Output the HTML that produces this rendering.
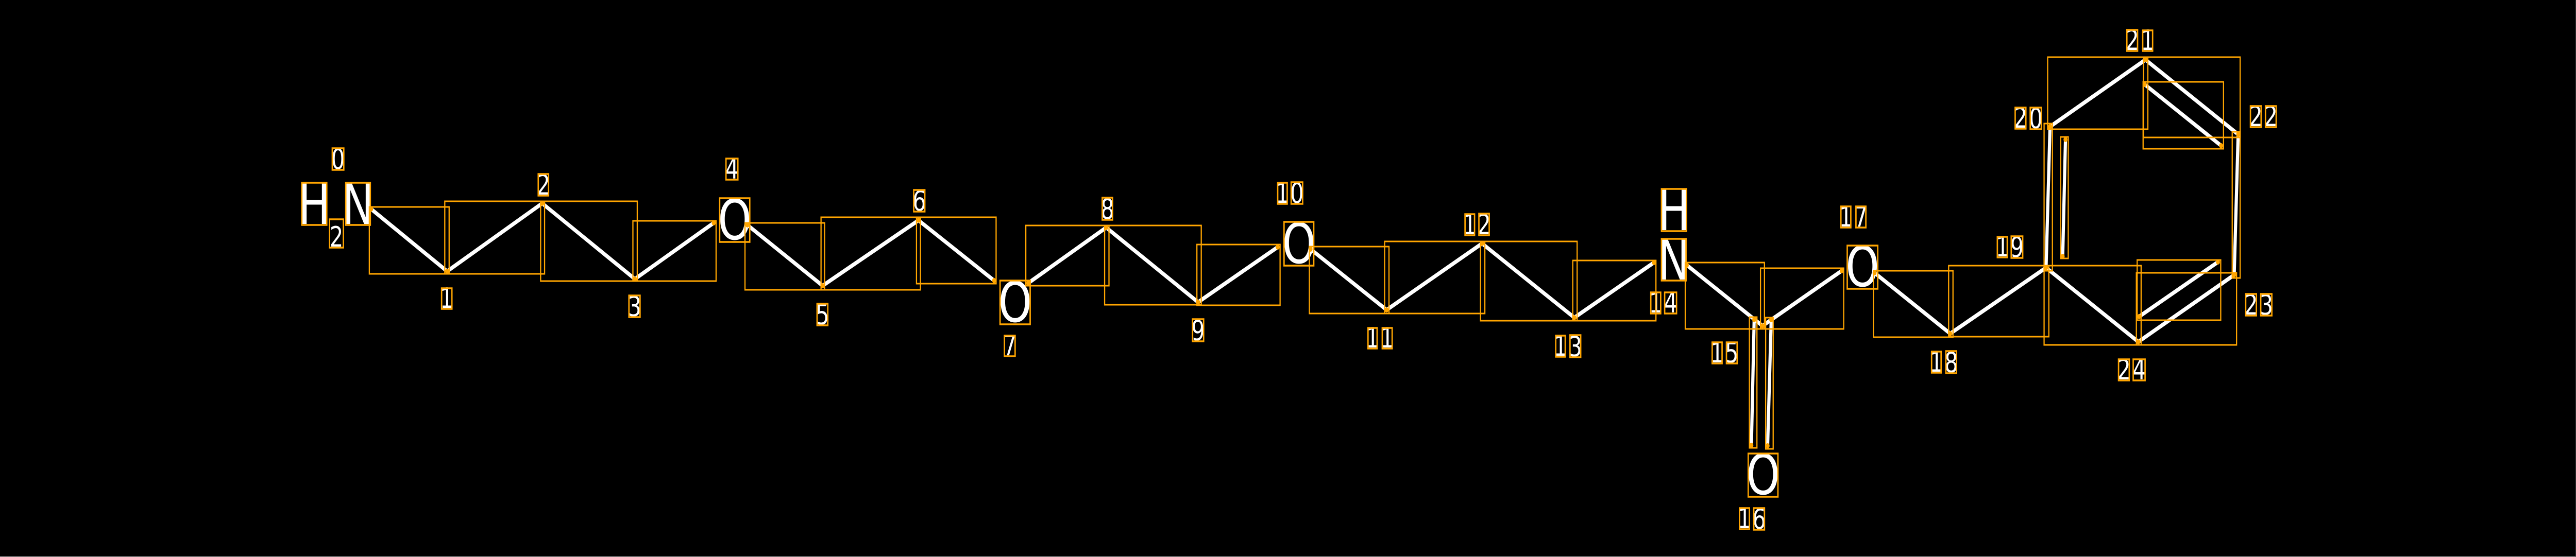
<!DOCTYPE html>
<html><head><meta charset="utf-8"><style>
html,body{margin:0;padding:0;background:#000;width:100%;height:100%;overflow:hidden}
svg{display:block;width:100vw;height:100vh;position:fixed;left:0;top:0}
.b{stroke:#fff;stroke-width:8;fill:none}
.r{stroke:#ffa500;stroke-width:3;fill:none}
.g{stroke:#ffa500;stroke-width:3.5;fill:none}
text{fill:#fff;font-family:"DejaVu Sans","Liberation Sans",sans-serif;text-anchor:middle}
.L{font-size:108px}.s{font-size:54px}
circle{fill:#ffa500}
</style></head><body>
<svg viewBox="0 0 6504 1082" preserveAspectRatio="none" xmlns="http://www.w3.org/2000/svg">
<rect width="6504" height="1082" fill="#000"/>
<rect x="0" y="1081" width="6504" height="1" fill="#c4c4c4"/>
<rect x="6503" y="0" width="1" height="1082" fill="#555"/>

<g class="b">
<path d="M937 406L1129 527L1369 395L1603 542L1802 433"/>
<path d="M1887 437L2077 555L2319 428L2510 545"/>
<path d="M2596 550L2793 442L3025 587L3226 480"/>
<path d="M3309 484L3501 602L3742 473L3975 617L4176 510"/>
<path d="M4259 515L4450 633L4650 526"/>
<path d="M4429 621L4422 865"/><path d="M4472 621L4463 866"/>
<path d="M4733 530L4924 648L5166 520L5399 664L5641 534L5651 261L5417 116L5176 246L5166 520"/>
<path d="M5208 498L5215 271"/>
<path d="M5415 164L5608 283"/>
<path d="M5600 509L5401 615"/>
</g>

<text class="L" x="793.500" y="435">H</text>
<text class="L" x="904" y="435">N</text>
<text class="L" x="1855" y="465">O</text>
<text class="L" x="2563" y="625">O</text>
<text class="L" x="3279.500" y="511">O</text>
<text class="L" x="4226.500" y="447">H</text>
<text class="L" x="4226" y="543">N</text>
<text class="L" x="4451.500" y="960">O</text>
<text class="L" x="4702.500" y="556">O</text>

<text class="s" x="849.500" y="479">2</text>
<text class="s" x="853.500" y="328">0</text>
<text class="s" x="1128" y="598">1</text>
<text class="s" x="1372" y="378">2</text>
<text class="s" x="1602" y="614">3</text>
<text class="s" x="1848" y="347">4</text>
<text class="s" x="2076.500" y="630">5</text>
<text class="s" x="2321" y="409">6</text>
<text class="s" x="2549.500" y="690">7</text>
<text class="s" x="2796" y="425">8</text>
<text class="s" x="3025" y="661">9</text>
<text class="s" x="3238" y="394">1</text><text class="s" x="3274.500" y="394">0</text>
<text class="s" x="3465.500" y="675">1</text><text class="s" x="3502.500" y="675">1</text>
<text class="s" x="3711" y="455">1</text><text class="s" x="3747" y="455">2</text>
<text class="s" x="3940" y="691">1</text><text class="s" x="3977.500" y="692">3</text>
<text class="s" x="4180.500" y="607">1</text><text class="s" x="4218" y="607">4</text>
<text class="s" x="4335.500" y="704">1</text><text class="s" x="4372.500" y="704">5</text>
<text class="s" x="4404.500" y="1026">1</text><text class="s" x="4441.500" y="1027">6</text>
<text class="s" x="4660.500" y="440">1</text><text class="s" x="4698.500" y="440">7</text>
<text class="s" x="4889" y="722">1</text><text class="s" x="4926.500" y="723">8</text>
<text class="s" x="5056" y="498">1</text><text class="s" x="5092.500" y="499">9</text>
<text class="s" x="5101.500" y="248">2</text><text class="s" x="5140" y="249">0</text>
<text class="s" x="5383.500" y="97">2</text><text class="s" x="5422.500" y="97">1</text>
<text class="s" x="5695.500" y="245">2</text><text class="s" x="5733.500" y="245">2</text>
<text class="s" x="5683.500" y="611">2</text><text class="s" x="5722" y="611">3</text>
<text class="s" x="5362.500" y="737">2</text><text class="s" x="5401" y="737">4</text>

<g class="g">
<rect x="762" y="355" width="63" height="82"/><rect x="873" y="355" width="62" height="82"/>
<rect x="832" y="426" width="35" height="55"/><rect x="839" y="288" width="29" height="42"/>
<rect x="1817" y="385" width="76" height="85"/><rect x="2525" y="545" width="76" height="85"/>
<rect x="3242" y="431" width="75" height="85"/><rect x="4195" y="367" width="63" height="82"/>
<rect x="4195" y="464" width="62" height="81"/><rect x="4414" y="881" width="75" height="84"/>
<rect x="4664" y="477" width="77" height="84"/>
<rect x="1115" y="560" width="26" height="40"/><rect x="1359" y="338" width="26" height="42"/>
<rect x="1588" y="574" width="28" height="42"/><rect x="1833" y="308" width="30" height="41"/>
<rect x="2063" y="590" width="27" height="42"/><rect x="2307" y="369" width="28" height="42"/>
<rect x="2536" y="652" width="27" height="40"/><rect x="2783" y="384" width="26" height="43"/>
<rect x="3011" y="620" width="28" height="43"/>
<rect x="3226" y="355" width="24" height="41"/><rect x="3260" y="354" width="29" height="42"/>
<rect x="3454" y="637" width="23" height="40"/><rect x="3490" y="637" width="25" height="40"/>
<rect x="3699" y="416" width="24" height="41"/><rect x="3734" y="415" width="26" height="42"/>
<rect x="3928" y="652" width="24" height="41"/><rect x="3964" y="651" width="27" height="43"/>
<rect x="4168" y="568" width="25" height="41"/><rect x="4203" y="568" width="30" height="41"/>
<rect x="4323" y="665" width="25" height="41"/><rect x="4359" y="665" width="27" height="41"/>
<rect x="4392" y="987" width="25" height="41"/><rect x="4428" y="987" width="27" height="42"/>
<rect x="4648" y="401" width="25" height="41"/><rect x="4686" y="401" width="25" height="41"/>
<rect x="4877" y="683" width="24" height="41"/><rect x="4913" y="682" width="27" height="43"/>
<rect x="5043" y="460" width="25" height="40"/><rect x="5078" y="459" width="29" height="42"/>
<rect x="5088" y="209" width="27" height="41"/><rect x="5126" y="209" width="28" height="42"/>
<rect x="5370" y="58" width="27" height="41"/><rect x="5410" y="59" width="25" height="40"/>
<rect x="5682" y="206" width="27" height="41"/><rect x="5720" y="206" width="27" height="41"/>
<rect x="5670" y="571" width="27" height="42"/><rect x="5708" y="571" width="28" height="42"/>
<rect x="5349" y="698" width="27" height="41"/><rect x="5386" y="698" width="30" height="41"/>
</g>

<g class="r">
<rect x="932.500" y="402" width="201.500" height="130"/>
<rect x="1123" y="391" width="252" height="141"/>
<rect x="1365" y="391" width="244" height="155"/>
<rect x="1598" y="429" width="210" height="117"/>
<rect x="1881" y="433" width="201" height="130"/>
<rect x="2073" y="422" width="251" height="141"/>
<rect x="2314" y="422" width="201" height="129"/>
<rect x="2590" y="438" width="210" height="117"/>
<rect x="2789" y="438" width="244" height="154"/>
<rect x="3022" y="475" width="210" height="118"/>
<rect x="3306" y="479" width="201" height="130"/>
<rect x="3496" y="469" width="253" height="140"/>
<rect x="3738" y="469" width="244" height="154"/>
<rect x="3971" y="506" width="210" height="117"/>
<rect x="4255" y="510" width="200" height="129"/>
<rect x="4445" y="521" width="210" height="118"/>
<rect x="4417" y="616" width="19" height="254"/>
<rect x="4458" y="617" width="19" height="255"/>
<rect x="4730" y="526" width="201" height="129"/>
<rect x="4920" y="516" width="253" height="138"/>
<rect x="5161" y="240" width="21" height="286"/>
<rect x="5203" y="266" width="19" height="236"/>
<rect x="5170" y="111" width="253" height="140"/>
<rect x="5412" y="111" width="244" height="156"/>
<rect x="5411" y="159" width="203" height="130"/>
<rect x="5636" y="256" width="20" height="284"/>
<rect x="5394" y="530" width="253" height="140"/>
<rect x="5396" y="505" width="211" height="117"/>
<rect x="5161" y="516" width="245" height="154"/>
</g>

<g>
<circle cx="937" cy="406" r="5"/><circle cx="1129" cy="527" r="5"/><circle cx="1369" cy="395" r="5"/><circle cx="1603" cy="542" r="5"/>
<circle cx="1802" cy="433" r="5"/><circle cx="1887" cy="437" r="5"/><circle cx="2077" cy="555" r="5"/><circle cx="2319" cy="428" r="5"/><circle cx="2510" cy="545" r="5"/>
<circle cx="2596" cy="550" r="5"/><circle cx="2793" cy="442" r="5"/><circle cx="3025" cy="587" r="5"/><circle cx="3226" cy="480" r="5"/>
<circle cx="3309" cy="484" r="5"/><circle cx="3501" cy="602" r="5"/><circle cx="3742" cy="473" r="5"/><circle cx="3975" cy="617" r="5"/><circle cx="4176" cy="510" r="5"/>
<circle cx="4259" cy="515" r="5"/><circle cx="4450" cy="633" r="5"/><circle cx="4650" cy="526" r="5"/>
<circle cx="4429" cy="621" r="5"/><circle cx="4422" cy="865" r="5"/><circle cx="4472" cy="621" r="5"/><circle cx="4463" cy="866" r="5"/>
<circle cx="4733" cy="530" r="5"/><circle cx="4924" cy="648" r="5"/><circle cx="5166" cy="520" r="5"/><circle cx="5399" cy="664" r="5"/><circle cx="5641" cy="534" r="5"/>
<circle cx="5651" cy="261" r="5"/><circle cx="5417" cy="116" r="5"/><circle cx="5176" cy="246" r="5"/>
<circle cx="5208" cy="498" r="5"/><circle cx="5215" cy="271" r="5"/><circle cx="5415" cy="164" r="5"/><circle cx="5608" cy="283" r="5"/><circle cx="5600" cy="509" r="5"/><circle cx="5401" cy="615" r="5"/>
</g>
</svg>
</body></html>
